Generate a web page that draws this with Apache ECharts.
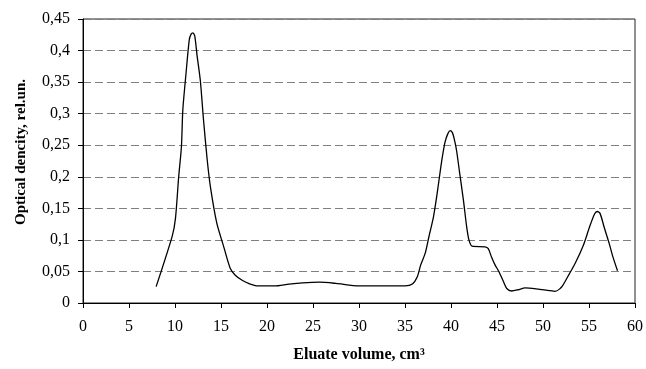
<!DOCTYPE html>
<html>
<head>
<meta charset="utf-8">
<script src="https://cdn.jsdelivr.net/npm/echarts@6/dist/echarts.min.js"></script>
<style>
html,body{margin:0;padding:0;background:#fff;}
#chart{width:646px;height:369px;}
</style>
</head>
<body>
<div id="chart"></div>
<script>
var xTitle = 'Eluate volume, cm\u00B3';
var yTitle = 'Optical dencity, rel.un.';
var yTickLabels = {0:'0',0.05:'0,05',0.1:'0,1',0.15:'0,15',0.2:'0,2',0.25:'0,25',0.3:'0,3',0.35:'0,35',0.4:'0,4',0.45:'0,45'};

var volume = [
  7.95, 9.7, 10.05, 10.4, 10.7, 10.85, 11.2, 11.55, 11.75, 11.95, 12.15, 12.4, 12.75, 13.1, 13.5, 13.85,
  14.55, 15.3, 16.0, 16.55, 17.3, 18.0, 19.0, 20.8, 22.4, 23.9, 25.7, 27.5, 30.0, 35.0,
  35.8, 36.35, 36.7, 37.2, 37.6, 38.1, 38.5, 38.85, 39.1, 39.35, 39.65, 39.9, 40.15, 40.35, 40.6, 40.95,
  41.35, 41.7, 41.95, 42.3, 43.7, 44.05, 44.4, 44.8, 45.2, 45.7, 46.06, 46.6, 47.3, 48.06, 49.5,
  50.8, 51.3, 52.0, 52.7, 53.5, 54.4, 55.05, 55.6, 55.9, 56.2, 56.65, 57.2, 57.6, 58.1
];
var density = [
  0.026, 0.106, 0.134, 0.2, 0.248, 0.306, 0.364, 0.417, 0.426, 0.428, 0.423, 0.392, 0.353, 0.29, 0.227, 0.184,
  0.126, 0.089, 0.055, 0.044, 0.036, 0.031, 0.027, 0.027, 0.03, 0.032, 0.033, 0.031, 0.027, 0.027,
  0.03, 0.042, 0.06, 0.079, 0.105, 0.137, 0.174, 0.211, 0.235, 0.255, 0.268, 0.273, 0.27, 0.26, 0.242, 0.205,
  0.163, 0.121, 0.1, 0.09, 0.089, 0.086, 0.073, 0.06, 0.05, 0.034, 0.023, 0.019, 0.021, 0.024, 0.022,
  0.0195, 0.0185, 0.025, 0.042, 0.063, 0.092, 0.12, 0.141, 0.145, 0.142, 0.12, 0.094, 0.073, 0.051
];

var points = volume.map(function(v, i){ return [v, density[i]]; });
var fontFam = '"Liberation Serif", "Times New Roman", serif';

var chart = echarts.init(document.getElementById('chart'), null, {renderer:'canvas'});
chart.setOption({
  animation: false,
  backgroundColor: '#ffffff',
  grid: {left: 83, right: 9, top: 19, bottom: 66, containLabel: false,
         show: true, borderColor: '#222', borderWidth: 1},
  graphic: [{
    type: 'text',
    x: 21, y: 152, rotation: Math.PI / 2,
    style: {text: yTitle, font: 'bold 15px ' + fontFam, fill: '#000', align: 'center', verticalAlign: 'middle'}
  }],
  xAxis: {
    type: 'value', min: 0, max: 60, interval: 5,
    name: xTitle, nameLocation: 'middle', nameGap: 44,
    nameTextStyle: {fontFamily: fontFam, fontWeight: 'bold', fontSize: 16, color: '#000'},
    axisLine: {show: true, onZero: false, lineStyle: {color: '#000', width: 1}},
    axisTick: {show: true, length: 5, inside: false, lineStyle: {color: '#000'}},
    axisLabel: {fontFamily: fontFam, fontSize: 16, color: '#000', margin: 16},
    splitLine: {show: false}
  },
  yAxis: {
    type: 'value', min: 0, max: 0.45, interval: 0.05,
    axisLine: {show: true, lineStyle: {color: '#000', width: 1}},
    axisTick: {show: true, length: 5, lineStyle: {color: '#000'}},
    axisLabel: {fontFamily: fontFam, fontSize: 16, color: '#000', margin: 13,
      formatter: function(v){ var k = Math.round(v*100)/100; return yTickLabels[k] !== undefined ? yTickLabels[k] : String(v).replace('.', ','); }},
    splitLine: {show: true, lineStyle: {color: '#7f7f7f', type: [8, 4], width: 1}}
  },
  series: [{
    type: 'line',
    data: points,
    smooth: 0.25,
    showSymbol: false,
    symbol: 'none',
    lineStyle: {color: '#000', width: 1.3}
  }]
});
</script>
</body>
</html>
